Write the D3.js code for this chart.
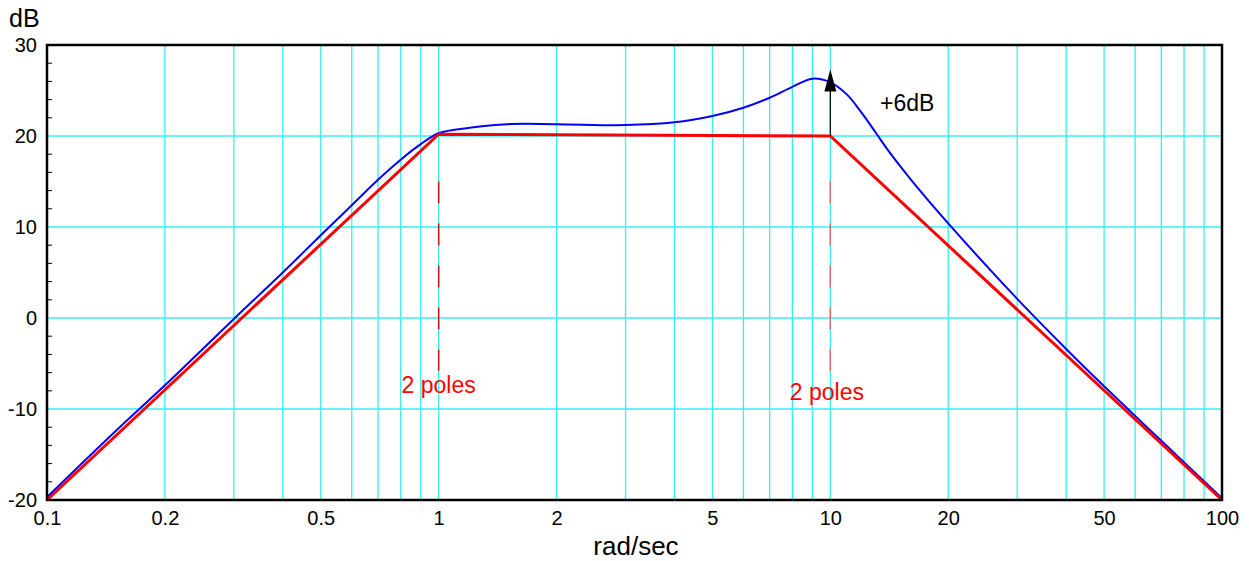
<!DOCTYPE html>
<html><head><meta charset="utf-8">
<script src="https://cdn.jsdelivr.net/npm/d3@7"></script>
<style>body{margin:0;background:#fff}svg{display:block}text{font-family:"Liberation Sans",Arial,sans-serif}</style>
</head><body><svg id="c" width="1249" height="561"></svg>
<script>
const xTickValues = [0.1, 0.2, 0.5, 1, 2, 5, 10, 20, 50, 100];
const yTickValues = [-20, -10, 0, 10, 20, 30];
const gridX = [0.2,0.3,0.4,0.5,0.6,0.7,0.8,0.9,1,2,3,4,5,6,7,8,9,10,20,30,40,50,60,70,80,90];
const gridY = [-10, 0, 10, 20];
const freqBlue = [0.1,0.15,0.2,0.3,0.4,0.5,0.6,0.7,0.8,0.9,1,1.2,1.5,2,3,4,5,6,7,8,9,10,11,12,13,14,16,20,30,40,50,70,100];
const dbBlue   = [-19.7,-12.4,-7.4,-0.1,5.0,9.1,12.4,15.2,17.4,19.1,20.3,20.9,21.3,21.3,21.2,21.5,22.2,23.1,24.2,25.4,26.3,25.9,24.6,22.6,20.5,18.5,15.3,10.4,2.1,-3.4,-7.5,-13.5,-19.8];
const freqRed = [0.1, 1, 10, 100];
const dbRed   = [-20, 20.2, 20, -20];
const arrowFrom = [10, 20];
const arrowTo = [10, 27.3];
const labels = [{t:"2 poles", f:1, db:-8.2, color:"#f00", anchor:"middle"}, {t:"2 poles", f:9.8, db:-9.0, color:"#f00", anchor:"middle"}, {t:"+6dB", f:13.4, db:22.7, color:"#000", anchor:"start"}];
const dashLines = [{f:1, color:"#cc0000", op:0.9}, {f:10, color:"#e06060", op:0.9}];
const dashRange = [15, -5.8];

const svg = d3.select("#c");
const L=47, R=1222, T=45, B=500;
const x = d3.scaleLog().domain([0.1,100]).range([L,R]);
const y = d3.scaleLinear().domain([-20,30]).range([B,T]);

// grid
svg.append("g").selectAll("line").data(gridX).join("line")
  .attr("x1",d=>x(d)).attr("x2",d=>x(d)).attr("y1",T).attr("y2",B)
  .attr("stroke","#33f0f0").attr("stroke-width",1.3);
svg.append("g").selectAll("line").data(gridY).join("line")
  .attr("x1",L).attr("x2",R).attr("y1",d=>y(d)).attr("y2",d=>y(d))
  .attr("stroke","#33f0f0").attr("stroke-width",1.3);

// dashed markers
dashLines.forEach(d=>{
  svg.append("line").attr("x1",x(d.f)).attr("x2",x(d.f)).attr("y1",y(dashRange[0])).attr("y2",y(dashRange[1]))
    .attr("stroke",d.color).attr("stroke-opacity",d.op).attr("stroke-width",1.5).attr("stroke-dasharray","22,20");
});

// curves
const line = d3.line().x(d=>x(d[0])).y(d=>y(d[1]));
svg.append("path").datum(freqBlue.map((f,i)=>[f,dbBlue[i]]))
  .attr("d", d3.line().x(d=>x(d[0])).y(d=>y(d[1])).curve(d3.curveCatmullRom.alpha(0.5)))
  .attr("fill","none").attr("stroke","#0000ff").attr("stroke-width",2);
svg.append("path").datum(freqRed.map((f,i)=>[f,dbRed[i]]))
  .attr("d", line).attr("fill","none").attr("stroke","#ff0000").attr("stroke-width",3);

// arrow
const ax = x(arrowFrom[0]), ay0 = y(arrowFrom[1]), ay1 = y(arrowTo[1]);
svg.append("line").attr("x1",ax).attr("x2",ax).attr("y1",ay0).attr("y2",ay1+18).attr("stroke","#000").attr("stroke-width",1.2);
svg.append("path").attr("d",`M${ax},${ay1} L${ax-6},${ay1+22} L${ax+6},${ay1+22} Z`).attr("fill","#000");

// labels
labels.forEach(l=>{
  svg.append("text").attr("x",x(l.f)).attr("y",y(l.db)).attr("text-anchor", l.anchor)
    .attr("font-size",23).attr("fill",l.color).text(l.t);
});

// frame
svg.append("rect").attr("x",L).attr("y",T).attr("width",R-L).attr("height",B-T)
  .attr("fill","none").attr("stroke","#000").attr("stroke-width",2.5);

// y axis minor ticks
const yMinor = d3.range(-20,31,2).filter(v=>v%10!==0);
svg.append("g").selectAll("line").data(yMinor).join("line")
  .attr("x1",L).attr("x2",L+5).attr("y1",d=>y(d)).attr("y2",d=>y(d)).attr("stroke","#000").attr("stroke-width",1);

// tick labels via axes
const yAxis = svg.append("g").attr("transform",`translate(${L-4},0)`)
  .call(d3.axisLeft(y).tickValues(yTickValues).tickSize(0).tickPadding(6).tickFormat(d=>String(d)));
yAxis.select(".domain").remove();
yAxis.selectAll("text").attr("font-size",20).attr("fill","#000").attr("font-family","Liberation Sans, Arial, sans-serif");
const xAxis = svg.append("g").attr("transform",`translate(0,${B+6})`)
  .call(d3.axisBottom(x).tickValues(xTickValues).tickSize(0).tickPadding(5).tickFormat(d=>String(d)));
xAxis.select(".domain").remove();
xAxis.selectAll("text").attr("font-size",20).attr("fill","#000").attr("font-family","Liberation Sans, Arial, sans-serif");

svg.append("text").attr("x",9).attr("y",27).attr("font-size",25).text("dB");
svg.append("text").attr("x",636).attr("y",555).attr("text-anchor","middle").attr("font-size",26).text("rad/sec");
</script></body></html>
